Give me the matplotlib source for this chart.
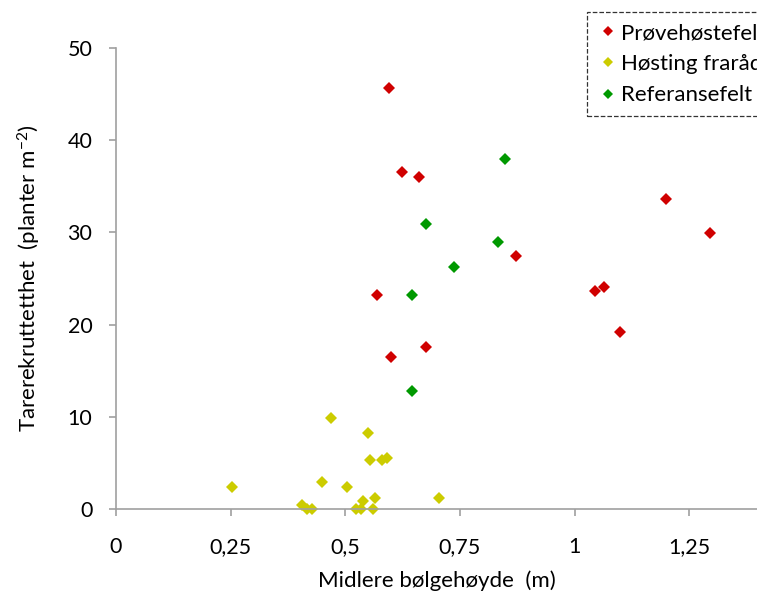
import matplotlib
matplotlib.use("Agg")
import matplotlib.pyplot as plt
from matplotlib.ticker import FuncFormatter

plt.rcParams['font.family'] = ['Lato', 'DejaVu Sans']
plt.rcParams['mathtext.fontset'] = 'custom'
plt.rcParams['mathtext.rm'] = 'Lato'
plt.rcParams['mathtext.it'] = 'Lato'

# Prøvehøstefelt
x_prove = [0.595, 0.624, 0.661, 0.569, 1.20, 1.296, 0.872, 1.064, 1.045, 1.10, 0.676, 0.600]
y_prove = [45.7, 36.6, 36.0, 23.2, 33.6, 29.9, 27.4, 24.1, 23.6, 19.2, 17.6, 16.5]

# Høsting frarådes
x_hoest = [0.253, 0.469, 0.549, 0.554, 0.580, 0.590, 0.449, 0.503, 0.705, 0.565,
           0.539, 0.406, 0.417, 0.428, 0.524, 0.534, 0.560]
y_hoest = [2.4, 9.9, 8.2, 5.3, 5.3, 5.5, 2.9, 2.4, 1.2, 1.2,
           0.9, 0.4, 0.0, 0.0, 0.0, 0.0, 0.0]

# Referansefelt
x_ref = [0.848, 0.676, 0.833, 0.737, 0.645, 0.646]
y_ref = [38.0, 30.9, 29.0, 26.3, 23.2, 12.8]

labels = ['Prøvehøstefelt', 'Høsting frarådes', 'Referansefelt']
colors = ['#d00000', '#cccc00', '#009900']

fig = plt.figure(figsize=(7.57, 6.01), dpi=100)
ax = fig.add_axes([116/757, 92/601, 641/757, 461/601])

for xs, ys, lab, col in zip([x_prove, x_hoest, x_ref], [y_prove, y_hoest, y_ref], labels, colors):
    ax.plot(xs, ys, 'D', color=col, markersize=6.2, markeredgewidth=0, label=lab, clip_on=False)

ax.set_xlim(0, 1.398)
ax.set_ylim(0, 50)
ax.set_xticks([0, 0.25, 0.5, 0.75, 1, 1.25])
ax.set_yticks([0, 10, 20, 30, 40, 50])
ax.xaxis.set_major_formatter(FuncFormatter(lambda v, p: ('%g' % v).replace('.', ',')))

for s in ['top', 'right']:
    ax.spines[s].set_visible(False)
for s in ['left', 'bottom']:
    ax.spines[s].set_color('#a0a0a0')
    ax.spines[s].set_linewidth(1.2)
ax.tick_params(direction='out', length=5, width=1.2, color='#a0a0a0', labelsize=15.5)
ax.tick_params(axis='x', pad=15)
ax.tick_params(axis='y', pad=12)

ax.set_xlabel('Midlere bølgehøyde  (m)', fontsize=16, labelpad=10)
ax.set_ylabel('Tarerekruttetthet  (planter m$^{-2}$)', fontsize=16, labelpad=18)

# legend runs past the right edge, as in the original
leg = fig.legend(loc='upper left', bbox_to_anchor=(587/757, 1 - 12/601), fontsize=16,
                 frameon=True, fancybox=False, handlelength=0.9, handletextpad=0.15,
                 borderpad=0.5, labelspacing=0.5, borderaxespad=0, markerscale=0.85)
leg.get_frame().set_edgecolor('black')
leg.get_frame().set_linestyle('--')
leg.get_frame().set_linewidth(0.9)

fig.savefig('out.png', dpi=100)
